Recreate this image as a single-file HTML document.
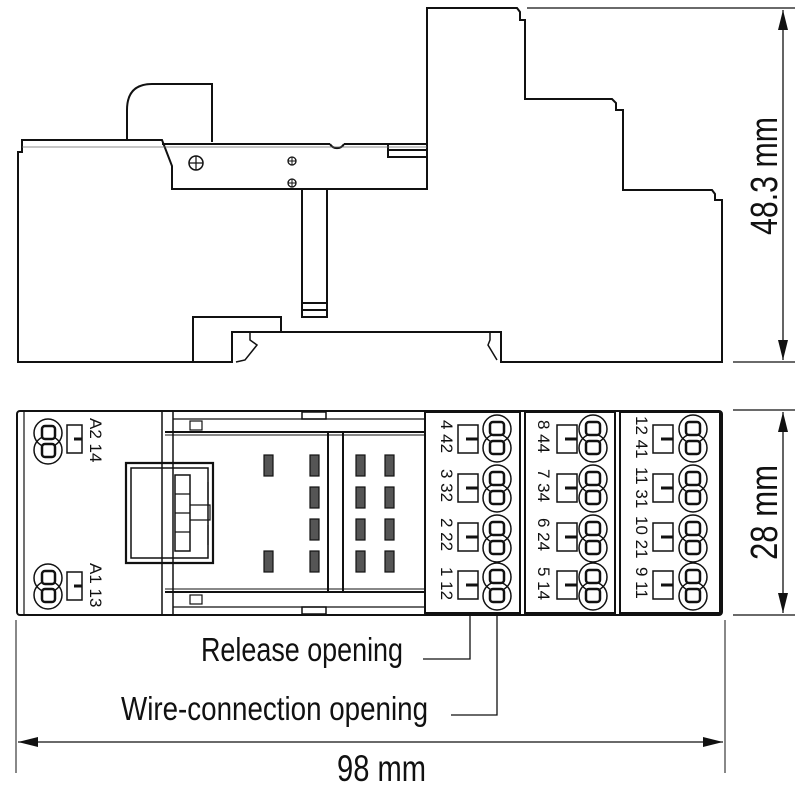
<!DOCTYPE html>
<html><head><meta charset="utf-8"><style>
html,body{margin:0;padding:0;background:#fff;}
svg{display:block;}
text{font-family:"Liberation Sans Narrow","Liberation Sans",sans-serif;fill:#111;}
</style></head><body>
<svg width="800" height="800" viewBox="0 0 800 800" xmlns="http://www.w3.org/2000/svg">
<defs>
<marker id="ar" viewBox="0 0 20 10" refX="20" refY="5" markerWidth="20" markerHeight="10" markerUnits="userSpaceOnUse" orient="auto-start-reverse"><path d="M0,0 L20,5 L0,10 z" fill="#111"/></marker>
</defs>
<g fill="none" stroke="#111" stroke-width="2">
<path d="M18,362 L18,152 L22,152 L22,140 L162,140 L172,166 L172,189 L427,189 L427,8 L517,8 L520,12 L520,20 L525,20 L525,99 L612,99 L616,103 L616,110 L623,110 L623,190 L712,190 L715,194 L715,200 L722,200 L722,362 L501,362 L501,332 L232,332 L232,362 Z"/>
<path d="M193,362 L193,317 L281,317 L281,332"/>
<path d="M127,140 L127,110 Q127,84 152,84 L212,84 L212,142"/>
<path d="M162,144 L330,144 M344,144 L427,144"/>
<path d="M330,144 A8,8 0 0,0 344,144" />
<path d="M388,144 L388,157 L427,157 M388,150 L427,150"/>
<path d="M302,189 L302,317 L327,317 L327,189 M302,303 L327,303 M302,310 L327,310"/>
<circle cx="196" cy="163" r="7" stroke-width="1.5"/><path d="M189,163 H203 M196,156 V170" stroke-width="1.2"/>
<circle cx="292" cy="161" r="4" stroke-width="1.3"/><path d="M288,161 H296 M292,157 V165" stroke-width="1"/>
<circle cx="292" cy="183" r="4" stroke-width="1.3"/><path d="M288,183 H296 M292,179 V187" stroke-width="1"/>
<path d="M250,332 L250,340 L257,345 L245,360 L236,362" stroke-width="1.5"/>
<path d="M490,332 L490,340 L488,345 L497,360" stroke-width="1.5"/>
<path d="M22,147 L427,147" stroke-width="0.8" stroke="#666"/>
<path d="M527,8 L795,8 M733,362 L795,362" stroke-width="1.2"/>
<path d="M783,10 L783,360" stroke-width="1.3" marker-start="url(#ar)" marker-end="url(#ar)"/>

<rect x="17" y="411" width="705" height="204" rx="3"/>
<path d="M24,411 V615" stroke-width="1.2"/>
<path d="M162,411 V615 M173,411 V615" stroke-width="1.5"/>
<path d="M173,419 H425 M173,607 H425" stroke-width="1.2"/>
<path d="M165,432 H425 M165,592 H425" stroke-width="2"/>
<path d="M165,435 H425 M165,589 H425" stroke-width="1"/>
<path d="M328,432 V592 M343,432 V592" stroke-width="2"/>
<rect x="302" y="412" width="24" height="7" stroke-width="1.5"/>
<rect x="302" y="607" width="24" height="7" stroke-width="1.5"/>
<rect x="190" y="421" width="12" height="9" stroke-width="1.2"/>
<rect x="190" y="595" width="12" height="9" stroke-width="1.2"/>
<path d="M126,463 H213 V563 H126 Z" stroke-width="2.2"/>
<path d="M131,468 H208 V558 H131 Z" stroke-width="1.5"/>
<rect x="175" y="475" width="15" height="76" stroke-width="1.5"/>
<path d="M175,494 H190 M175,513 H190 M175,532 H190 M190,505 H210 V520 H190 M208,482 V500 M208,525 V545" stroke-width="1.2"/>
<g stroke-width="1.5">
<circle cx="48" cy="433" r="14"/><circle cx="48" cy="450" r="14"/>
<circle cx="48" cy="578" r="14"/><circle cx="48" cy="595" r="14"/>
<rect x="67" y="425" width="15" height="28"/><rect x="67" y="572" width="15" height="28"/>
</g>
<g stroke-width="2.5" fill="#fff">
<rect x="42" y="426" width="13" height="13" rx="3"/><rect x="42" y="444" width="13" height="13" rx="3"/>
<rect x="42" y="571" width="13" height="13" rx="3"/><rect x="42" y="589" width="13" height="13" rx="3"/>
</g>
<rect x="425" y="412" width="95" height="201" stroke-width="2"/>
<rect x="525" y="412" width="90" height="201" stroke-width="2"/>
<rect x="620" y="412" width="100" height="201" stroke-width="2"/>
<path d="M520,412 V613 M525,412 V613 M615,412 V613 M620,412 V613" stroke-width="1.5"/>
</g>
<g fill="#555" stroke="#111" stroke-width="1.2">
<rect x="264" y="455" width="9" height="21"/><rect x="264" y="551" width="9" height="21"/>
<rect x="310" y="455" width="9" height="21"/><rect x="310" y="487" width="9" height="21"/><rect x="310" y="519" width="9" height="21"/><rect x="310" y="551" width="9" height="21"/>
<rect x="356" y="455" width="9" height="21"/><rect x="356" y="487" width="9" height="21"/><rect x="356" y="519" width="9" height="21"/><rect x="356" y="551" width="9" height="21"/>
<rect x="385" y="455" width="9" height="21"/><rect x="385" y="487" width="9" height="21"/><rect x="385" y="519" width="9" height="21"/><rect x="385" y="551" width="9" height="21"/>
</g>
<g fill="none" stroke="#111" stroke-width="1.5">
<circle cx="497" cy="429" r="14"/><circle cx="497" cy="448" r="14"/>
<circle cx="497" cy="479" r="14"/><circle cx="497" cy="498" r="14"/>
<circle cx="497" cy="529" r="14"/><circle cx="497" cy="548" r="14"/>
<circle cx="497" cy="577" r="14"/><circle cx="497" cy="596" r="14"/>
<circle cx="593" cy="429" r="14"/><circle cx="593" cy="448" r="14"/>
<circle cx="593" cy="479" r="14"/><circle cx="593" cy="498" r="14"/>
<circle cx="593" cy="529" r="14"/><circle cx="593" cy="548" r="14"/>
<circle cx="593" cy="577" r="14"/><circle cx="593" cy="596" r="14"/>
<circle cx="693" cy="429" r="14"/><circle cx="693" cy="448" r="14"/>
<circle cx="693" cy="479" r="14"/><circle cx="693" cy="498" r="14"/>
<circle cx="693" cy="529" r="14"/><circle cx="693" cy="548" r="14"/>
<circle cx="693" cy="577" r="14"/><circle cx="693" cy="596" r="14"/>
<g fill="#fff" stroke-width="2.5">
<rect x="490" y="422" width="14" height="13" rx="3"/><rect x="490" y="441" width="14" height="13" rx="3"/>
<rect x="490" y="472" width="14" height="13" rx="3"/><rect x="490" y="491" width="14" height="13" rx="3"/>
<rect x="490" y="522" width="14" height="13" rx="3"/><rect x="490" y="541" width="14" height="13" rx="3"/>
<rect x="490" y="570" width="14" height="13" rx="3"/><rect x="490" y="589" width="14" height="13" rx="3"/>
<rect x="586" y="422" width="14" height="13" rx="3"/><rect x="586" y="441" width="14" height="13" rx="3"/>
<rect x="586" y="472" width="14" height="13" rx="3"/><rect x="586" y="491" width="14" height="13" rx="3"/>
<rect x="586" y="522" width="14" height="13" rx="3"/><rect x="586" y="541" width="14" height="13" rx="3"/>
<rect x="586" y="570" width="14" height="13" rx="3"/><rect x="586" y="589" width="14" height="13" rx="3"/>
<rect x="686" y="422" width="14" height="13" rx="3"/><rect x="686" y="441" width="14" height="13" rx="3"/>
<rect x="686" y="472" width="14" height="13" rx="3"/><rect x="686" y="491" width="14" height="13" rx="3"/>
<rect x="686" y="522" width="14" height="13" rx="3"/><rect x="686" y="541" width="14" height="13" rx="3"/>
<rect x="686" y="570" width="14" height="13" rx="3"/><rect x="686" y="589" width="14" height="13" rx="3"/>
</g>
<rect x="458" y="425" width="20" height="28"/><rect x="458" y="474" width="20" height="28"/><rect x="458" y="523" width="20" height="28"/><rect x="458" y="571" width="20" height="28"/>
<rect x="557" y="425" width="20" height="28"/><rect x="557" y="474" width="20" height="28"/><rect x="557" y="523" width="20" height="28"/><rect x="557" y="571" width="20" height="28"/>
<rect x="653" y="425" width="20" height="28"/><rect x="653" y="474" width="20" height="28"/><rect x="653" y="523" width="20" height="28"/><rect x="653" y="571" width="20" height="28"/>
<path d="M466,439 H478 M466,488 H478 M466,537 H478 M466,585 H478 M565,439 H577 M565,488 H577 M565,537 H577 M565,585 H577 M661,439 H673 M661,488 H673 M661,537 H673 M661,585 H673 M74,439 H82 M74,586 H82" stroke-width="3"/>
</g>
<g font-size="17">
<text transform="translate(90,418) rotate(90)">A2  14</text>
<text transform="translate(90,563) rotate(90)">A1  13</text>
<text transform="translate(441,420) rotate(90)">4  42</text>
<text transform="translate(441,469) rotate(90)">3  32</text>
<text transform="translate(441,518) rotate(90)">2  22</text>
<text transform="translate(441,567) rotate(90)">1  12</text>
<text transform="translate(538,420) rotate(90)">8  44</text>
<text transform="translate(538,469) rotate(90)">7  34</text>
<text transform="translate(538,518) rotate(90)">6  24</text>
<text transform="translate(538,567) rotate(90)">5  14</text>
<text transform="translate(636,416) rotate(90)">12  41</text>
<text transform="translate(636,467) rotate(90)">11  31</text>
<text transform="translate(636,516) rotate(90)">10  21</text>
<text transform="translate(636,567) rotate(90)">9  11</text>
</g>
<g fill="none" stroke="#111">
<path d="M733,410 L795,410 M733,615 L795,615" stroke-width="1.2"/>
<path d="M783,412 L783,613" stroke-width="1.3" marker-start="url(#ar)" marker-end="url(#ar)"/>
<path d="M16,620 L16,773 M725,620 L725,773" stroke-width="1"/>
<path d="M18,742 L723,742" stroke-width="1.3" marker-start="url(#ar)" marker-end="url(#ar)"/>
<path d="M423,659 L470,659 L470,612" stroke-width="1.3"/>
<path d="M451,715 L497,715 L497,612" stroke-width="1.3"/>
</g>
<text x="201" y="661" font-size="33" textLength="202" lengthAdjust="spacingAndGlyphs">Release opening</text>
<text x="121" y="720" font-size="33" textLength="307" lengthAdjust="spacingAndGlyphs">Wire-connection opening</text>
<text x="337" y="781" font-size="37" textLength="89" lengthAdjust="spacingAndGlyphs">98 mm</text>
<text transform="translate(777,235) rotate(-90)" font-size="38" textLength="118" lengthAdjust="spacingAndGlyphs">48.3 mm</text>
<text transform="translate(777,560) rotate(-90)" font-size="38" textLength="95" lengthAdjust="spacingAndGlyphs">28 mm</text>
</svg>
</body></html>
